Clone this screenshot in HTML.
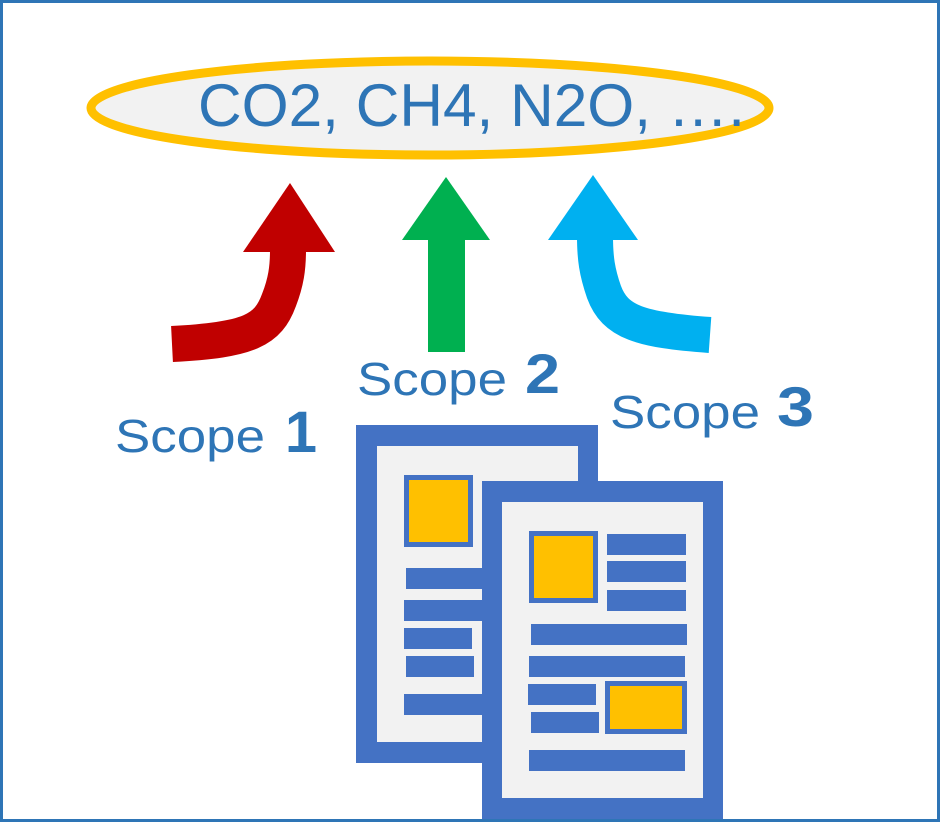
<!DOCTYPE html>
<html><head><meta charset="utf-8"><style>
html,body{margin:0;padding:0;background:#fff;}
svg{display:block;}
</style></head><body>
<svg width="940" height="822" viewBox="0 0 940 822" xmlns="http://www.w3.org/2000/svg">
<rect x="1.5" y="1.5" width="937" height="819" fill="#fff" stroke="#2E75B6" stroke-width="3"/>
<ellipse cx="430" cy="108" rx="339" ry="47" fill="#F2F2F2" stroke="#FFC000" stroke-width="9"/>
<text x="198" y="126" font-family="Liberation Sans, sans-serif" font-size="60" fill="#2E75B6" textLength="547" lengthAdjust="spacingAndGlyphs">CO2, CH4, N2O, ….</text>

<!-- red arrow -->
<path d="M172,344 C250,340 268,330 279,300 C286,282 288,268 288,250" fill="none" stroke="#C00000" stroke-width="36"/>
<polygon points="290,183 243,252 335,252" fill="#C00000"/>
<!-- green arrow -->
<rect x="428" y="236" width="37" height="116" fill="#00B050"/>
<polygon points="446,177 402,240 490,240" fill="#00B050"/>
<!-- blue arrow -->
<path d="M710,335 C640,330 615,322 604,292 C597,272 595,258 595,236" fill="none" stroke="#00B0F0" stroke-width="36"/>
<polygon points="593,175 548,240 638,240" fill="#00B0F0"/>

<g font-family="Liberation Sans, sans-serif" fill="#2E75B6">
<text x="115" y="452" font-size="46" textLength="150" lengthAdjust="spacingAndGlyphs">Scope</text>
<text x="285" y="452" font-size="58" font-weight="bold" textLength="32" lengthAdjust="spacingAndGlyphs">1</text>
<text x="357" y="395" font-size="46" textLength="150" lengthAdjust="spacingAndGlyphs">Scope</text>
<text x="525" y="393" font-size="56" font-weight="bold" textLength="35" lengthAdjust="spacingAndGlyphs">2</text>
<text x="610" y="428" font-size="46" textLength="150" lengthAdjust="spacingAndGlyphs">Scope</text>
<text x="777" y="426" font-size="56" font-weight="bold" textLength="37" lengthAdjust="spacingAndGlyphs">3</text>
</g>

<!-- back doc -->
<rect x="356" y="425" width="242" height="338" fill="#4472C4"/>
<rect x="377" y="446" width="201" height="296" fill="#F2F2F2"/>
<rect x="404" y="475" width="69" height="72" fill="#4472C4"/>
<rect x="409" y="480" width="59" height="62" fill="#FFC000"/>
<rect x="406" y="568" width="80" height="21" fill="#4472C4"/>
<rect x="404" y="600" width="80" height="21" fill="#4472C4"/>
<rect x="404" y="628" width="68" height="21" fill="#4472C4"/>
<rect x="406" y="656" width="68" height="21" fill="#4472C4"/>
<rect x="404" y="694" width="80" height="21" fill="#4472C4"/>
<!-- front doc -->
<rect x="482" y="481" width="241" height="345" fill="#4472C4"/>
<rect x="502" y="502" width="201" height="296" fill="#F2F2F2"/>
<rect x="529" y="531" width="69" height="72" fill="#4472C4"/>
<rect x="534" y="536" width="59" height="62" fill="#FFC000"/>
<rect x="607" y="534" width="79" height="21" fill="#4472C4"/>
<rect x="607" y="561" width="79" height="21" fill="#4472C4"/>
<rect x="607" y="590" width="79" height="21" fill="#4472C4"/>
<rect x="531" y="624" width="156" height="21" fill="#4472C4"/>
<rect x="529" y="656" width="156" height="21" fill="#4472C4"/>
<rect x="528" y="684" width="68" height="21" fill="#4472C4"/>
<rect x="531" y="712" width="68" height="21" fill="#4472C4"/>
<rect x="605" y="681" width="82" height="53" fill="#4472C4"/>
<rect x="610" y="686" width="72" height="43" fill="#FFC000"/>
<rect x="529" y="750" width="156" height="21" fill="#4472C4"/>
<rect x="0" y="819" width="940" height="3" fill="#2E75B6"/>
</svg>
</body></html>
